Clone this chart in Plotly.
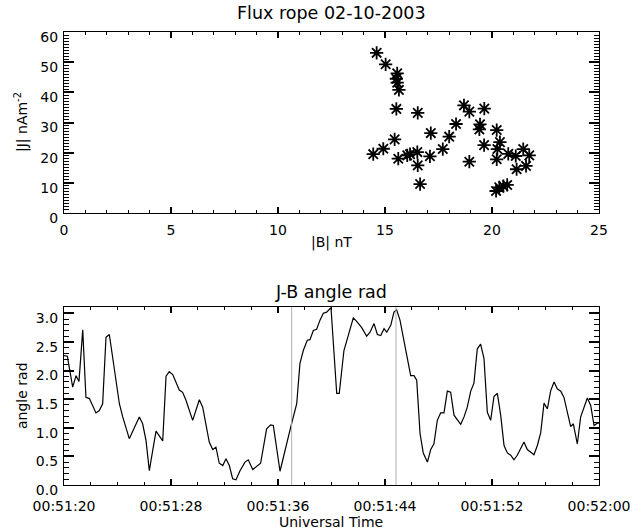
import pandas as pd
import plotly.graph_objects as go

# ---------------- data ----------------
B_nT = [14.61, 15.03, 15.57, 15.53, 15.57, 15.65, 15.53, 16.53, 15.45, 14.92,
        14.45, 15.62, 16.04, 16.17, 16.51, 16.53, 16.64, 17.14, 17.10, 17.70,
        18.00, 18.32, 18.69, 18.94, 19.64, 18.94, 19.44, 19.41, 19.63, 20.22,
        20.37, 20.25, 20.22, 20.76, 21.11, 21.46, 21.74, 21.15, 21.59, 20.19,
        20.34, 20.53, 20.71]
J_nAm2 = [53.1, 49.3, 46.3, 44.5, 43.2, 40.8, 34.5, 33.2, 24.4, 21.3,
          19.5, 18.0, 19.1, 19.5, 20.2, 15.8, 9.6, 26.5, 18.8, 21.2,
          25.3, 29.5, 35.7, 33.6, 34.6, 17.0, 29.4, 27.7, 22.5, 27.5,
          23.5, 21.2, 17.8, 19.6, 18.9, 21.2, 19.1, 14.5, 15.6, 7.3,
          8.5, 8.9, 9.3]

t_start = "2003-10-02 00:51:20"
t_end = "2003-10-02 00:52:00"
# seconds after 00:51:20
t_offset = [0.00, 0.25, 0.65, 0.90, 1.12, 1.40, 1.64, 1.90, 2.39, 2.64,
            2.89, 3.14, 3.39, 3.64, 4.14, 4.39, 4.88, 5.63, 5.88, 6.13,
            6.38, 6.63, 6.88, 7.38, 7.63, 7.87, 8.13, 8.62, 8.87, 9.12,
            9.62, 10.12, 10.37, 10.86, 11.12, 11.36, 11.61, 11.87, 12.11, 12.36,
            12.61, 12.86, 13.16, 13.53, 13.78, 14.11, 14.41, 14.70, 15.15, 15.45,
            15.65, 16.15, 16.95, 17.40, 17.64, 17.89, 18.19, 18.39, 18.64, 18.89,
            19.14, 19.39, 19.64, 19.96, 20.39, 20.58, 20.93, 21.26, 21.63, 21.88,
            22.26, 22.63, 22.88, 23.18, 23.43, 23.68, 23.93, 24.13, 24.43, 24.67,
            24.87, 25.12, 25.42, 25.67, 25.92, 26.17, 26.37, 26.62, 26.86, 27.17,
            27.42, 27.66, 27.91, 28.16, 28.41, 28.66, 28.91, 29.16, 29.66, 29.91,
            30.15, 30.41, 30.65, 30.90, 31.15, 31.40, 31.65, 31.90, 32.15, 32.40,
            32.65, 32.90, 33.15, 33.40, 33.64, 33.89, 34.39, 34.64, 35.14, 35.39,
            35.64, 35.89, 36.14, 36.39, 36.64, 36.88, 37.14, 37.38, 37.63, 37.88,
            38.08, 38.38, 38.63, 38.88, 39.13, 39.38, 39.63, 39.87, 40.00]
angle_rad = [2.26, 2.25, 1.71, 1.91, 1.81, 2.71, 1.53, 1.51, 1.26, 1.30,
             1.42, 2.58, 2.63, 2.23, 1.42, 1.19, 0.81, 1.19, 1.07, 0.78,
             0.25, 0.60, 0.94, 0.77, 1.90, 1.98, 1.93, 1.66, 1.62, 1.48,
             1.13, 1.49, 1.36, 0.75, 0.62, 0.66, 0.38, 0.34, 0.46, 0.34,
             0.11, 0.09, 0.25, 0.40, 0.44, 0.27, 0.32, 0.38, 0.98, 1.05,
             1.04, 0.24, 1.01, 1.42, 2.12, 2.35, 2.53, 2.54, 2.70, 2.72,
             2.88, 3.00, 3.02, 3.10, 1.60, 1.60, 2.35, 2.64, 2.92, 2.86,
             2.75, 2.60, 2.67, 2.82, 2.63, 2.61, 2.73, 2.67, 2.79, 3.02,
             3.06, 2.88, 2.53, 2.26, 1.91, 1.91, 1.83, 0.90, 0.56, 0.40,
             0.62, 0.72, 1.13, 1.26, 1.26, 1.64, 1.62, 1.22, 1.06, 1.19,
             1.36, 1.64, 1.78, 2.38, 2.46, 2.21, 1.27, 1.13, 1.55, 1.60,
             1.22, 0.69, 0.56, 0.52, 0.44, 0.52, 0.75, 0.62, 0.53, 0.69,
             0.91, 1.43, 1.33, 1.65, 1.80, 1.68, 1.64, 1.53, 1.27, 1.02,
             1.07, 0.72, 1.19, 1.35, 1.52, 1.39, 1.04, 1.08, 1.08]
event_offsets = [17.02, 24.82]  # seconds after 00:51:20 (grey markers)

# ---------------- figure ----------------
t0 = pd.Timestamp(t_start)
times = [t0 + pd.Timedelta(seconds=s) for s in t_offset]
event_times = [t0 + pd.Timedelta(seconds=s) for s in event_offsets]

FONT = "DejaVu Sans"
W, H = 643, 530

fig = go.Figure()
fig.add_trace(go.Scatter(
    x=B_nT, y=J_nAm2, mode="markers", xaxis="x", yaxis="y",
    marker=dict(symbol="asterisk-open", size=11, color="black",
                line=dict(color="black", width=1.8)),
    showlegend=False))
fig.add_trace(go.Scatter(
    x=times, y=angle_rad, mode="lines", xaxis="x2", yaxis="y2",
    line=dict(color="black", width=1.2), showlegend=False))

for et in event_times:
    fig.add_shape(type="line", xref="x2", yref="y2 domain",
                  x0=et, x1=et, y0=0, y1=1,
                  line=dict(color="#b0b0b0", width=1))

def px_x(p):
    return p / W

def px_y(p):
    return 1 - p / H

def ax(**kw):
    d = dict(showline=True, linecolor="black", linewidth=1.3,
             mirror="allticks", ticks="inside", tickcolor="#000000",
             tickwidth=1.5, showgrid=False, zeroline=False, automargin=False,
             tickfont=dict(family=FONT, size=14, color="black"))
    d.update(kw)
    return d

def minor(dt, ln):
    return dict(dtick=dt, ticklen=ln, ticks="inside", tickcolor="#000000",
                tickwidth=1, showgrid=False)

fig.update_layout(
    width=W, height=H, margin=dict(l=0, r=0, t=0, b=0, pad=0),
    paper_bgcolor="white", plot_bgcolor="white",
    font=dict(family=FONT, color="black"),
    xaxis=ax(domain=[px_x(64), px_x(599)], anchor="y",
             range=[0, 25], tick0=0, dtick=5, ticklen=6,
             ticklabelstandoff=4, minor=minor(1, 3)),
    yaxis=ax(domain=[px_y(213), px_y(32)], anchor="x",
             range=[0, 60], tick0=0, dtick=10, ticklen=10,
             ticklabelshift=5, ticklabelstandoff=2, minor=minor(1, 5)),
    xaxis2=ax(domain=[px_x(64), px_x(599)], anchor="y2", type="date",
              range=[t_start, t_end], tick0=t_start, dtick=8000,
              tickformat="%H:%M:%S", ticklen=6, ticklabelstandoff=8,
              minor=minor(2000, 3)),
    yaxis2=ax(domain=[px_y(485), px_y(307)], anchor="x2",
              range=[0, 3.11], tick0=0, dtick=0.5, tickformat=".1f", ticklen=10,
              ticklabelshift=5, ticklabelstandoff=2, minor=minor(0.1, 5)),
)

annots = [
    dict(text="Flux rope 02-10-2003", x=px_x(331), y=px_y(13), size=17.5, angle=0),
    dict(text="|B| nT", x=px_x(331), y=px_y(242), size=14, angle=0),
    dict(text="|J| nAm<sup>-2</sup>", x=px_x(22), y=px_y(122), size=14, angle=-90),
    dict(text="J-B angle rad", x=px_x(331), y=px_y(292), size=17.5, angle=0),
    dict(text="Universal Time", x=px_x(331), y=px_y(522), size=14, angle=0),
    dict(text="angle rad", x=px_x(22), y=px_y(396), size=14, angle=-90),
]
for a in annots:
    fig.add_annotation(text=a["text"], x=a["x"], y=a["y"], xref="paper", yref="paper",
                       xanchor="center", yanchor="middle", showarrow=False,
                       textangle=a["angle"],
                       font=dict(family=FONT, size=a["size"], color="black"))

fig.write_html("out.html")
